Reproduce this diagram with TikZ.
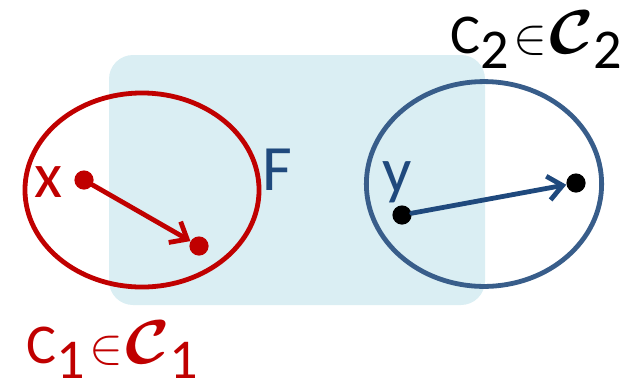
\documentclass[tikz,border=0pt]{standalone}
\usepackage{fix-cm}
\usepackage{amsmath,amssymb}
\usepackage{bm}
\usepackage{graphicx}
\usepackage{fontspec}
\setmainfont{Carlito}
\usepackage{xcolor}
\usetikzlibrary{arrows.meta}
\definecolor{darkred}{HTML}{C00000}
\definecolor{navy}{HTML}{1F497D}
\definecolor{ringblue}{HTML}{385D8A}
\definecolor{paleblue}{HTML}{DAEEF3}
\newcommand{\lowsub}[1]{\raisebox{-0.28em}{#1}}
\newcommand{\famsym}{\scalebox{1.2}[1.1]{$\bm{\mathcal{C}}$}}
\newcommand{\member}{\hspace{0.08em}\scalebox{0.9}{$\in$}\hspace{0.04em}}

\begin{document}
\begin{tikzpicture}[
    x=0.025cm, y=-0.025cm,
    dot/.style={circle, inner sep=0pt, minimum size=0.48cm},
    letter/.style={anchor=base, inner sep=0pt, font=\fontsize{46}{50}\selectfont},
    setname/.style={anchor=base west, inner sep=0pt, font=\fontsize{40}{44}\selectfont},
    ring/.style={line width=0.12cm},
    arrow/.style={-{Straight Barb[length=0.36cm, width=0.6cm]}, line width=0.12cm, line cap=round}
]
    \useasboundingbox (0,0) rectangle (632,384);
    \fill[paleblue, rounded corners=0.6cm] (109,55) rectangle (485,305);
    \draw[ring, darkred] (142,190) ellipse (2.925cm and 2.425cm);
    \draw[ring, ringblue] (484,184) ellipse (2.94cm and 2.56cm);
    \node[dot, fill=darkred] (xpt) at (84,180) {};
    \node[dot, fill=darkred] (ximg) at (199,246) {};
    \node[dot, fill=black] (ypt) at (402,215) {};
    \node[dot, fill=black] (yimg) at (576,183) {};
    \draw[arrow, darkred] (xpt) -- (ximg);
    \draw[arrow, navy] (ypt) -- (yimg);
    \node[letter, darkred] (xlabel) at (49,197) {x};
    \node[letter, navy] (flabel) at (277,190) {F};
    \node[letter, navy] (ylabel) at (397,192) {y};
    \node[setname, darkred] (cone) at (26,363) {C\lowsub{1}\member\famsym\lowsub{1}};
    \node[setname] (ctwo) at (450,53) {C\lowsub{2}\member\famsym\lowsub{2}};
\end{tikzpicture}
\end{document}
